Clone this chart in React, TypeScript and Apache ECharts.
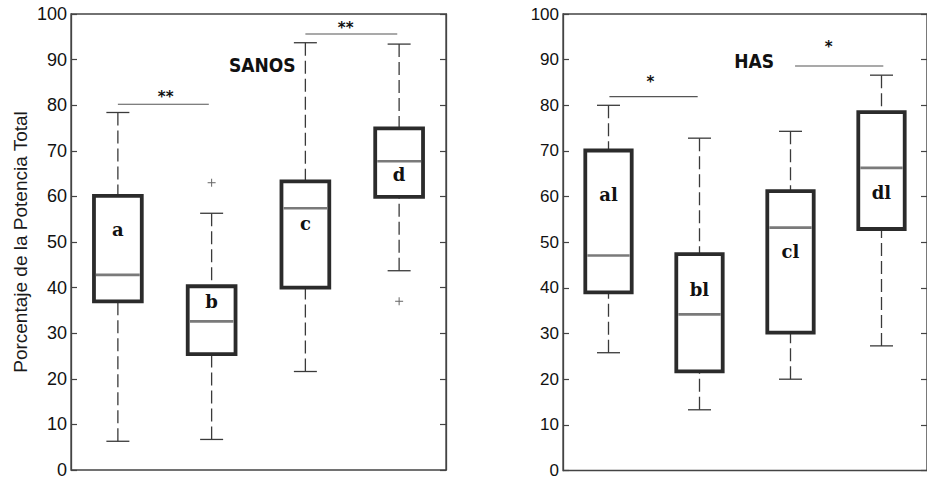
import React, { useEffect, useRef } from "react";
import * as echarts from "echarts";

// ---- Data ----
const sanosLabels = ["a", "b", "c", "d"];
const sanosLow = [6.3, 6.7, 21.6, 43.7];
const sanosQ1 = [37.0, 25.4, 40.0, 59.9];
const sanosMedian = [42.8, 32.6, 57.4, 67.7];
const sanosQ3 = [60.1, 40.3, 63.3, 74.9];
const sanosHigh = [78.4, 56.3, 93.7, 93.4];
const sanosOutliers = [
  [1, 63.0],
  [3, 37.0],
];
const sanosLabelY = [52.8, 36.9, 54.1, 64.8];
// [from, to, lineValue, starX, starValue, text]
const sanosSig = [
  [0, 0.97, 80.2, 0.51, 82.5, "**"],
  [2.0, 2.98, 95.6, 2.43, 97.6, "**"],
];

const hasLabels = ["al", "bl", "cl", "dl"];
const hasLow = [25.8, 13.3, 20.0, 27.3];
const hasQ1 = [39.0, 21.7, 30.2, 52.9];
const hasMedian = [47.1, 34.2, 53.2, 66.3];
const hasQ3 = [70.1, 47.4, 61.2, 78.5];
const hasHigh = [80.0, 72.8, 74.3, 86.6];
const hasOutliers: number[][] = [];
const hasLabelY = [60.5, 39.7, 48.0, 60.9];
const hasSig = [
  [0.01, 0.98, 81.9, 0.46, 85.8, "*"],
  [2.05, 3.02, 88.6, 2.42, 93.4, "*"],
];

const yTicks = [0, 10, 20, 30, 40, 50, 60, 70, 80, 90, 100];

const panelTitles = ["SANOS", "HAS"];
const titlePos = [
  [1.54, 88.9],
  [1.6, 89.7],
];

function boxData(low: number[], q1: number[], med: number[], q3: number[], high: number[]) {
  return low.map((_, i) => [i, low[i], q1[i], med[i], q3[i], high[i]]);
}

const BOX_COLOR = "#2b2b2b";
const MEDIAN_COLOR = "#7a7a7a";
const WHISKER_COLOR = "#3a3a3a";

function renderBox(params: any, api: any) {
  const x = api.value(0);
  const low = api.coord([x, api.value(1)]);
  const q1 = api.coord([x, api.value(2)]);
  const med = api.coord([x, api.value(3)]);
  const q3 = api.coord([x, api.value(4)]);
  const high = api.coord([x, api.value(5)]);
  const bw = api.size([1, 0])[0] * 0.51;
  const cap = 23;
  const cx = low[0];
  return {
    type: "group",
    children: [
      {
        type: "line",
        shape: { x1: cx, y1: high[1], x2: cx, y2: q3[1] },
        style: { stroke: WHISKER_COLOR, lineWidth: 1.3, lineDash: [13, 5] },
      },
      {
        type: "line",
        shape: { x1: cx, y1: low[1], x2: cx, y2: q1[1] },
        style: { stroke: WHISKER_COLOR, lineWidth: 1.3, lineDash: [13, 5] },
      },
      {
        type: "line",
        shape: { x1: cx - cap / 2, y1: high[1], x2: cx + cap / 2, y2: high[1] },
        style: { stroke: WHISKER_COLOR, lineWidth: 1.3 },
      },
      {
        type: "line",
        shape: { x1: cx - cap / 2, y1: low[1], x2: cx + cap / 2, y2: low[1] },
        style: { stroke: WHISKER_COLOR, lineWidth: 1.3 },
      },
      {
        type: "rect",
        shape: { x: cx - bw / 2, y: q3[1], width: bw, height: q1[1] - q3[1] },
        style: { fill: "none", stroke: BOX_COLOR, lineWidth: 3.8 },
      },
      {
        type: "line",
        shape: { x1: cx - bw / 2 + 2, y1: med[1], x2: cx + bw / 2 - 2, y2: med[1] },
        style: { stroke: MEDIAN_COLOR, lineWidth: 2.6 },
      },
    ],
  };
}

function renderOutlier(params: any, api: any) {
  const p = api.coord([api.value(0), api.value(1)]);
  const s = 4;
  return {
    type: "group",
    children: [
      { type: "line", shape: { x1: p[0] - s, y1: p[1], x2: p[0] + s, y2: p[1] }, style: { stroke: "#666", lineWidth: 1 } },
      { type: "line", shape: { x1: p[0], y1: p[1] - s, x2: p[0], y2: p[1] + s }, style: { stroke: "#666", lineWidth: 1 } },
    ],
  };
}

function renderSig(params: any, api: any) {
  const a = api.coord([api.value(0), api.value(2)]);
  const b = api.coord([api.value(1), api.value(2)]);
  const s = api.coord([api.value(3), api.value(4)]);
  return {
    type: "group",
    children: [
      { type: "line", shape: { x1: a[0], y1: a[1], x2: b[0], y2: b[1] }, style: { stroke: "#555", lineWidth: 1.1 } },
      {
        type: "text",
        x: s[0],
        y: s[1] + 3,
        style: {
          text: api.value(5),
          fill: "#111",
          fontFamily: "DejaVu Sans",
          fontWeight: "bold",
          fontSize: 15,
          align: "center",
          verticalAlign: "middle",
        },
      },
    ],
  };
}

function makeLabelRenderer(labels: string[]) {
  return function (params: any, api: any) {
    const p = api.coord([api.value(0), api.value(1)]);
    return {
      type: "text",
      x: p[0],
      y: p[1],
      style: {
        text: labels[params.dataIndex],
        fill: "#111",
        fontFamily: "DejaVu Serif",
        fontWeight: "bold",
        fontSize: 18,
        align: "center",
        verticalAlign: "middle",
      },
    };
  };
}

function makeTitleRenderer(title: string) {
  return function (params: any, api: any) {
    const p = api.coord([api.value(0), api.value(1)]);
    return {
      type: "text",
      x: p[0],
      y: p[1],
      style: {
        text: title,
        fill: "#111",
        fontFamily: "DejaVu Sans Condensed",
        fontWeight: "bold",
        fontSize: 19,
        align: "center",
        verticalAlign: "middle",
      },
    };
  };
}

export default function App() {
  const ref = useRef<HTMLDivElement>(null);
  useEffect(() => {
    if (!ref.current) return;
    const chart = echarts.init(ref.current, undefined, { renderer: "svg" });
    const yAxisBase = (gridIndex: number, fontSize: number, showName: boolean) => ({
      type: "value",
      gridIndex,
      min: yTicks[0],
      max: yTicks[yTicks.length - 1],
      interval: 10,
      position: "left",
      name: showName ? "Porcentaje de la Potencia Total" : "",
      nameLocation: "middle",
      nameGap: 41,
      nameTextStyle: { fontSize: 19, fontFamily: "Liberation Sans", color: "#1a1a1a" },
      axisLine: { show: true, onZero: false, lineStyle: { color: "#444", width: 1.3 } },
      axisTick: { show: true, inside: true, length: 6, lineStyle: { color: "#444", width: 1.2 } },
      axisLabel: { fontSize, fontFamily: "Liberation Sans", color: "#111", margin: 4 },
      splitLine: { show: false },
    });
    const yAxisRight = (gridIndex: number) => ({
      type: "value",
      gridIndex,
      min: 0,
      max: 100,
      interval: 10,
      position: "right",
      axisLine: { show: true, onZero: false, lineStyle: { color: "#444", width: 1.3 } },
      axisTick: { show: true, inside: true, length: 6, lineStyle: { color: "#444", width: 1.2 } },
      axisLabel: { show: false },
      splitLine: { show: false },
    });
    const xAxisBase = (gridIndex: number) => ({
      type: "value",
      gridIndex,
      min: -0.5,
      max: 3.5,
      axisLine: { show: false, onZero: false },
      axisTick: { show: false },
      axisLabel: { show: false },
      splitLine: { show: false },
    });

    const panels = [
      {
        box: boxData(sanosLow, sanosQ1, sanosMedian, sanosQ3, sanosHigh),
        out: sanosOutliers,
        labels: sanosLabels,
        labelY: sanosLabelY,
        sig: sanosSig,
      },
      {
        box: boxData(hasLow, hasQ1, hasMedian, hasQ3, hasHigh),
        out: hasOutliers,
        labels: hasLabels,
        labelY: hasLabelY,
        sig: hasSig,
      },
    ];

    const series: any[] = [];
    panels.forEach((p, gi) => {
      const axisRef = { xAxisIndex: gi, yAxisIndex: gi * 2 };
      series.push({
        type: "custom",
        ...axisRef,
        renderItem: renderBox,
        data: p.box,
        encode: { x: 0, y: [1, 2, 3, 4, 5] },
        silent: true,
      });
      if (p.out.length) {
        series.push({
          type: "custom",
          ...axisRef,
          renderItem: renderOutlier,
          data: p.out,
          encode: { x: 0, y: 1 },
          silent: true,
        });
      }
      series.push({
        type: "custom",
        ...axisRef,
        renderItem: makeLabelRenderer(p.labels),
        data: p.labelY.map((v, i) => [i, v]),
        encode: { x: 0, y: 1 },
        silent: true,
      });
      series.push({
        type: "custom",
        ...axisRef,
        renderItem: renderSig,
        data: p.sig,
        encode: { x: [0, 1], y: 2 },
        silent: true,
      });
      series.push({
        type: "custom",
        ...axisRef,
        renderItem: makeTitleRenderer(panelTitles[gi]),
        data: [titlePos[gi]],
        encode: { x: 0, y: 1 },
        silent: true,
      });
    });

    chart.setOption({
      animation: false,
      backgroundColor: "#ffffff",
      grid: [
        { left: 71, top: 14, width: 375, height: 458, show: true, borderColor: "#444", borderWidth: 1.3, backgroundColor: "transparent" },
        { left: 563, top: 14, width: 375, height: 458, show: true, borderColor: "#444", borderWidth: 1.3, backgroundColor: "transparent" },
      ],
      xAxis: [xAxisBase(0), xAxisBase(1)],
      yAxis: [yAxisBase(0, 18, true), yAxisRight(0), yAxisBase(1, 17, false), yAxisRight(1)],
      series,
    });
    return () => chart.dispose();
  }, []);
  return (
    <div
      ref={ref}
      style={{ position: "fixed", left: 0, top: 0, width: 927, height: 479, background: "#fff" }}
    />
  );
}
